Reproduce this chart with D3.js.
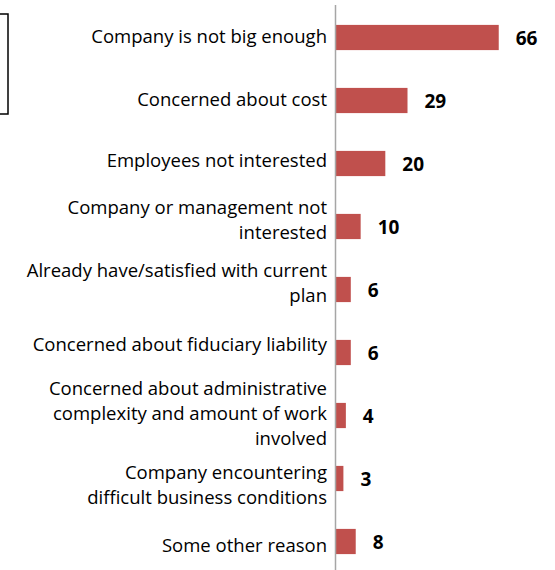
<!DOCTYPE html>
<html><head><meta charset="utf-8">
<script src="https://cdn.jsdelivr.net/npm/d3@7"></script>
<style>body{margin:0;background:#fff;} svg{display:block;}</style>
</head><body>
<svg id="c" width="555" height="570"></svg>
<script>
const categories = [
  ["Company is not big enough"],
  ["Concerned about cost"],
  ["Employees not interested"],
  ["Company or management not", "interested"],
  ["Already have/satisfied with current", "plan"],
  ["Concerned about fiduciary liability"],
  ["Concerned about administrative", "complexity and amount of work", "involved"],
  ["Company encountering", "difficult business conditions"],
  ["Some other reason"]
];
const values = [66, 29, 20, 10, 6, 6, 4, 3, 8];

// layout: small vertical nudges of the category label blocks, as in the reference
const labelNudge = [0, 0, -2, -6, -6, -7, -1.5, 7.5, 4.5];

const svg = d3.select("#c");
const font = "'Open Sans', sans-serif";
const ids = categories.map((d, i) => i);

const y = d3.scaleBand().domain(ids).range([6, 573]).paddingInner(0.6).paddingOuter(0.3);
const x = d3.scaleLinear().domain([0, 70]).range([336, 508.6]);

// fit font size so the first label spans ~235px like the reference
const probe = svg.append("text").attr("font-family", font).attr("font-size", 100).text(categories[0][0]);
const catSize = 100 * 236 / probe.node().getComputedTextLength();
probe.remove();

// left box (partially visible legend frame)
svg.append("rect").attr("x", -10).attr("y", 14).attr("width", 18).attr("height", 100)
  .attr("fill", "none").attr("stroke", "#000").attr("stroke-width", 1.5);

// bars
svg.selectAll("rect.bar").data(values).join("rect").attr("class", "bar")
  .attr("x", x(0)).attr("y", (d, i) => y(i))
  .attr("width", d => x(d) - x(0)).attr("height", y.bandwidth())
  .attr("fill", "#c0504d");

// axis line
svg.append("line").attr("x1", 335.5).attr("x2", 335.5).attr("y1", 5).attr("y2", 570)
  .attr("stroke", "#a6a6a6").attr("stroke-width", 1.5);

// category labels
const lh = 25;
const g = svg.selectAll("text.cat").data(categories).join("text").attr("class", "cat")
  .attr("text-anchor", "end").attr("font-family", font).attr("font-size", catSize).attr("fill", "#000");
g.each(function (lines, i) {
  const cy = y(i) + y.bandwidth() / 2 + labelNudge[i];
  const top = cy - (lines.length - 1) * lh / 2;
  d3.select(this).selectAll("tspan").data(lines).join("tspan")
    .attr("x", 327).attr("y", (d, j) => top + j * lh).attr("dy", "0.32em").text(d => d);
});

// value labels
svg.selectAll("text.val").data(values).join("text").attr("class", "val")
  .attr("x", d => x(d) + 17).attr("y", (d, i) => y(i) + y.bandwidth() / 2 + 1)
  .attr("dy", "0.35em").attr("font-family", font).attr("font-weight", "bold")
  .attr("font-size", 19).attr("fill", "#000").text(d => d);
</script>
</body></html>
